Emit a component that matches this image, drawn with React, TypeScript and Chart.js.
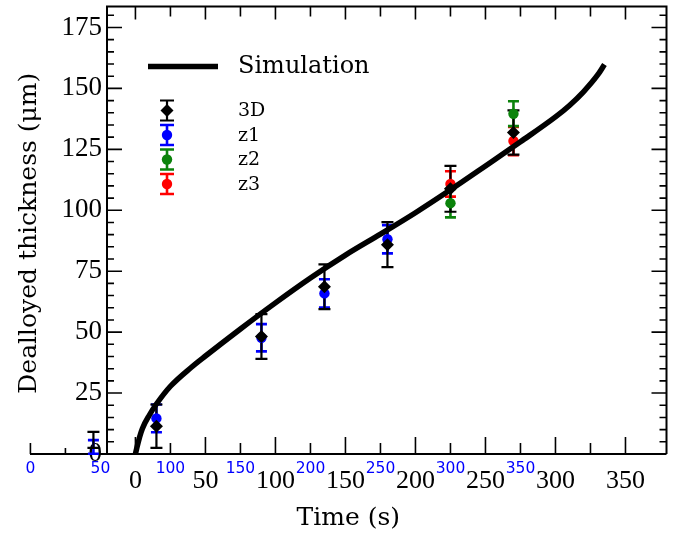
import React, { useEffect, useRef } from "react";
import { Chart, registerables } from "chart.js";

Chart.register(...registerables);

// ---- data ----
// Simulation curve (bottom black time axis, s)
const SIM_TIME = [0, 1, 3, 5, 10, 15, 25, 40, 50, 75, 100, 125, 150, 175, 200, 225, 250, 275, 300, 310, 320, 330, 335];
const SIM_THICKNESS = [0, 2.5, 7, 10.5, 16, 20.5, 27.8, 35.6, 40.2, 51.3, 62, 72.2, 81.6, 90.2, 99, 108.4, 118.2, 128.1, 138.3, 143, 148.6, 155.4, 159.8];

// Experimental sets (blue time axis, s)
const EXP_TIME = [45, 90, 165, 210, 255, 300, 345];
const D3_THICKNESS = [5.8, 11.4, 48.2, 68.6, 85.9, 108.8, 131.9];
const D3_ERROR = [3.3, 8.9, 9.2, 9.2, 9.2, 9.4, 9.1];

const Z1_TIME = [45, 90, 165, 210, 255];
const Z1_THICKNESS = [2.9, 14.6, 47.7, 65.9, 88.1];
const Z1_ERROR = [2.8, 5.7, 5.6, 5.8, 5.8];

const Z23_TIME = [300, 345];
const Z2_THICKNESS = [102.9, 139.6];
const Z2_ERROR = [5.8, 5.1];
const Z3_THICKNESS = [110.8, 128.4];
const Z3_ERROR = [5.2, 5.8];

// ---- ticks ----
const TIME_TICKS = [0, 50, 100, 150, 200, 250, 300, 350];
const EXP_TIME_TICKS = [0, 50, 100, 150, 200, 250, 300, 350];
const THICKNESS_TICKS = [0, 25, 50, 75, 100, 125, 150, 175];
const X_MAJOR_MARKS = [0, 50, 100, 150, 200, 250, 300, 350];
const X_MINOR_MARKS = [-75, 25, 75, 125, 175, 225, 275, 325];
const X_EXTRA_MARKS = [-50];

// ---- axis ranges ----
const X_MIN = -75.3;
const X_MAX = 379.3;
const EXP_OFFSET = 75; // blue axis reads black + 75
const FRAME_LEFT = -20.3;
const Y_LABEL_AT = -23.9;
const Y_MAX = 183.6;

const BLACK = "#000000";
const BLUE = "#0000ff";
const GREEN = "#0b830b";
const RED = "#ff0000";

const pts = (xs: number[], ys: number[], es: number[]) =>
  xs.map((x, i) => ({ x, y: ys[i], e: es[i] }));

// markers outside the black frame are not drawn (only their error bars)
const markerRadius = (r: number) => (c: any) => {
  const p = c.raw;
  if (!p) return r;
  const ds = c.dataset;
  const off = ds.xAxisID === "x2" ? EXP_OFFSET : 0;
  return p.x - off < FRAME_LEFT ? 0 : r;
};

const decoPlugin = {
  id: "deco",
  beforeDatasetsDraw(chart: any) {
    const { ctx, chartArea } = chart;
    const xs = chart.scales.x;
    const ys = chart.scales.y;
    const left = xs.getPixelForValue(FRAME_LEFT);
    const right = chartArea.right;
    const top = chartArea.top;
    const bottom = chartArea.bottom;
    ctx.save();
    ctx.strokeStyle = BLACK;
    ctx.lineWidth = 2;
    ctx.lineCap = "butt";
    ctx.beginPath();
    ctx.moveTo(chartArea.left, bottom);
    ctx.lineTo(right, bottom);
    ctx.moveTo(left, bottom);
    ctx.lineTo(left, top);
    ctx.lineTo(right, top);
    ctx.lineTo(right, bottom);
    ctx.stroke();

    ctx.lineWidth = 1.6;
    ctx.beginPath();
    const vTick = (v: number, len: number, both: boolean) => {
      const px = xs.getPixelForValue(v);
      ctx.moveTo(px, bottom);
      ctx.lineTo(px, bottom - len);
      if (both) {
        ctx.moveTo(px, top);
        ctx.lineTo(px, top + (len > 12 ? 13 : 10));
      }
    };
    X_MAJOR_MARKS.forEach((v) => vTick(v, 17, true));
    X_MINOR_MARKS.forEach((v) => vTick(v, 11, v > FRAME_LEFT));
    X_EXTRA_MARKS.forEach((v) => vTick(v, 6, false));
    for (let v = 5; v < Y_MAX; v += 5) {
      const py = ys.getPixelForValue(v);
      const len = v % 25 === 0 ? 15 : 7;
      ctx.moveTo(left, py);
      ctx.lineTo(left + len, py);
      ctx.moveTo(right, py);
      ctx.lineTo(right - len, py);
    }
    ctx.stroke();

    // error bars (colored first, black last)
    const dsets = chart.data.datasets;
    for (let i = dsets.length - 1; i >= 0; i--) {
      const ds = dsets[i];
      if (!ds.errorBars) continue;
      const sx = chart.scales[ds.xAxisID];
      ctx.strokeStyle = ds.backgroundColor;
      ctx.lineWidth = ds.label === "3D" ? 2.2 : 2.6;
      const cap = ds.label === "3D" ? 12 : 11;
      ctx.beginPath();
      ds.data.forEach((p: any) => {
        const px = sx.getPixelForValue(p.x);
        const y0 = ys.getPixelForValue(p.y - p.e);
        const y1 = ys.getPixelForValue(p.y + p.e);
        ctx.moveTo(px, y0);
        ctx.lineTo(px, y1);
        ctx.moveTo(px - cap / 2, y0);
        ctx.lineTo(px + cap / 2, y0);
        ctx.moveTo(px - cap / 2, y1);
        ctx.lineTo(px + cap / 2, y1);
      });
      ctx.stroke();
    }
    ctx.restore();
  },
  afterDraw(chart: any) {
    const { ctx, chartArea } = chart;
    const xs = chart.scales.x;
    const left = xs.getPixelForValue(FRAME_LEFT);
    ctx.save();
    // y axis title
    ctx.translate(29, (chartArea.top + chartArea.bottom) / 2 + 3);
    ctx.rotate(-Math.PI / 2);
    ctx.fillStyle = BLACK;
    ctx.font = '25px "DejaVu Serif"';
    ctx.textAlign = "center";
    ctx.textBaseline = "middle";
    ctx.fillText("Dealloyed thickness (\u03bcm)", 0, 0);
    ctx.restore();

    // legend
    const lx = left + 41;
    const ly = chartArea.top + 60;
    const dsets = chart.data.datasets;
    const sim = dsets.find((d: any) => d.label === "Simulation");
    ctx.save();
    ctx.strokeStyle = BLACK;
    ctx.lineWidth = sim.borderWidth;
    ctx.beginPath();
    ctx.moveTo(lx, ly);
    ctx.lineTo(lx + 70, ly);
    ctx.stroke();
    ctx.fillStyle = BLACK;
    ctx.font = '24px "DejaVu Serif"';
    ctx.textAlign = "left";
    ctx.textBaseline = "middle";
    ctx.fillText(sim.label, lx + 90, ly);

    const mx = lx + 19;
    const rows = dsets.filter((d: any) => d.errorBars);
    rows.forEach((d: any, i: number) => {
      const y = ly + 44 + i * 24.5;
      const col = d.backgroundColor;
      const r = d.legendRadius;
      ctx.strokeStyle = col;
      ctx.lineWidth = d.label === "3D" ? 2.2 : 2.6;
      ctx.beginPath();
      ctx.moveTo(mx, y - 10);
      ctx.lineTo(mx, y + 10);
      ctx.moveTo(mx - 7, y - 10);
      ctx.lineTo(mx + 7, y - 10);
      ctx.moveTo(mx - 7, y + 10);
      ctx.lineTo(mx + 7, y + 10);
      ctx.stroke();
      ctx.fillStyle = col;
      ctx.beginPath();
      if (d.pointStyle === "rectRot") {
        ctx.moveTo(mx, y - r);
        ctx.lineTo(mx + r, y);
        ctx.lineTo(mx, y + r);
        ctx.lineTo(mx - r, y);
        ctx.closePath();
      } else {
        ctx.arc(mx, y, r, 0, Math.PI * 2);
      }
      ctx.fill();
      ctx.fillStyle = BLACK;
      ctx.font = '19px "DejaVu Serif"';
      ctx.fillText(d.label, lx + 90, y + 1);
    });
    ctx.restore();
  },
};

export default function App() {
  const ref = useRef<HTMLCanvasElement>(null);
  useEffect(() => {
    if (!ref.current) return;
    const chart = new Chart(ref.current, {
      type: "scatter",
      data: {
        datasets: [
          {
            label: "3D",
            xAxisID: "x2",
            data: pts(EXP_TIME, D3_THICKNESS, D3_ERROR),
            backgroundColor: BLACK,
            borderColor: BLACK,
            borderWidth: 0,
            pointStyle: "rectRot",
            pointRadius: markerRadius(6.5),
            legendRadius: 6.5,
            errorBars: true,
            order: 0,
            clip: false,
          } as any,
          {
            label: "z1",
            xAxisID: "x2",
            data: pts(Z1_TIME, Z1_THICKNESS, Z1_ERROR),
            backgroundColor: BLUE,
            borderColor: BLUE,
            borderWidth: 0,
            pointStyle: "circle",
            pointRadius: markerRadius(5.2),
            legendRadius: 5.2,
            errorBars: true,
            order: 3,
            clip: false,
          },
          {
            label: "z2",
            xAxisID: "x2",
            data: pts(Z23_TIME, Z2_THICKNESS, Z2_ERROR),
            backgroundColor: GREEN,
            borderColor: GREEN,
            borderWidth: 0,
            pointStyle: "circle",
            pointRadius: markerRadius(5.2),
            legendRadius: 5.2,
            errorBars: true,
            order: 4,
            clip: false,
          },
          {
            label: "z3",
            xAxisID: "x2",
            data: pts(Z23_TIME, Z3_THICKNESS, Z3_ERROR),
            backgroundColor: RED,
            borderColor: RED,
            borderWidth: 0,
            pointStyle: "circle",
            pointRadius: markerRadius(5.2),
            legendRadius: 5.2,
            errorBars: true,
            order: 5,
            clip: false,
          },
          {
            label: "Simulation",
            xAxisID: "x",
            data: SIM_TIME.map((x, i) => ({ x, y: SIM_THICKNESS[i] })),
            showLine: true,
            borderColor: BLACK,
            backgroundColor: BLACK,
            borderWidth: 5.5,
            pointRadius: 0,
            cubicInterpolationMode: "monotone",
            order: 1,
            clip: false,
          },
        ] as any,
      },
      plugins: [decoPlugin],
      options: {
        animation: false,
        responsive: false,
        events: [],
        layout: { padding: { left: 30, right: 16.5, top: 4, bottom: 0 } },
        plugins: { legend: { display: false }, tooltip: { enabled: false } },
        scales: {
          x: {
            type: "linear",
            position: "bottom",
            weight: 1,
            min: X_MIN,
            max: X_MAX,
            grid: { display: false, drawTicks: false },
            border: { display: false },
            ticks: {
              color: BLACK,
              font: { family: "Liberation Serif", size: 26 },
              padding: 2,
              autoSkip: false,
              maxRotation: 0,
            },
            title: {
              display: true,
              text: "Time (s)",
              color: BLACK,
              font: { family: "DejaVu Serif", size: 25 },
              padding: { top: 0, bottom: 3 },
            },
            afterBuildTicks: (s: any) => {
              s.ticks = TIME_TICKS.map((v) => ({ value: v }));
            },
            afterFit: (s: any) => {
              s.height = 72;
              s.paddingLeft = 0;
              s.paddingRight = 0;
            },
          },
          x2: {
            type: "linear",
            position: "bottom",
            weight: 0,
            min: X_MIN + EXP_OFFSET,
            max: X_MAX + EXP_OFFSET,
            grid: { display: false, drawTicks: false },
            border: { display: false },
            ticks: {
              color: BLUE,
              font: { family: "DejaVu Sans", size: 15.5 },
              mirror: true,
              padding: -24.5,
              autoSkip: false,
              maxRotation: 0,
            },
            afterBuildTicks: (s: any) => {
              s.ticks = EXP_TIME_TICKS.map((v) => ({ value: v }));
            },
            afterFit: (s: any) => {
              s.height = 10;
              s.paddingLeft = 0;
              s.paddingRight = 0;
            },
          },
          y: {
            type: "linear",
            min: 0,
            max: Y_MAX,
            position: { x: Y_LABEL_AT },
            grid: { display: false, drawTicks: false },
            border: { display: false },
            ticks: {
              color: BLACK,
              font: { family: "Liberation Serif", size: 27 },
              padding: 0,
            },
            afterBuildTicks: (s: any) => {
              s.ticks = THICKNESS_TICKS.map((v) => ({ value: v }));
            },
            afterFit: (s: any) => {
              s.paddingTop = 0;
              s.paddingBottom = 0;
              s.paddingLeft = 0;
              s.paddingRight = 0;
            },
          },
        } as any,
      },
    } as any);
    return () => chart.destroy();
  }, []);
  return (
    <div style={{ position: "fixed", left: 0, top: 0, width: 683, height: 536, background: "#ffffff" }}>
      <canvas ref={ref} width={683} height={536} style={{ display: "block", width: 683, height: 536 }} />
    </div>
  );
}
